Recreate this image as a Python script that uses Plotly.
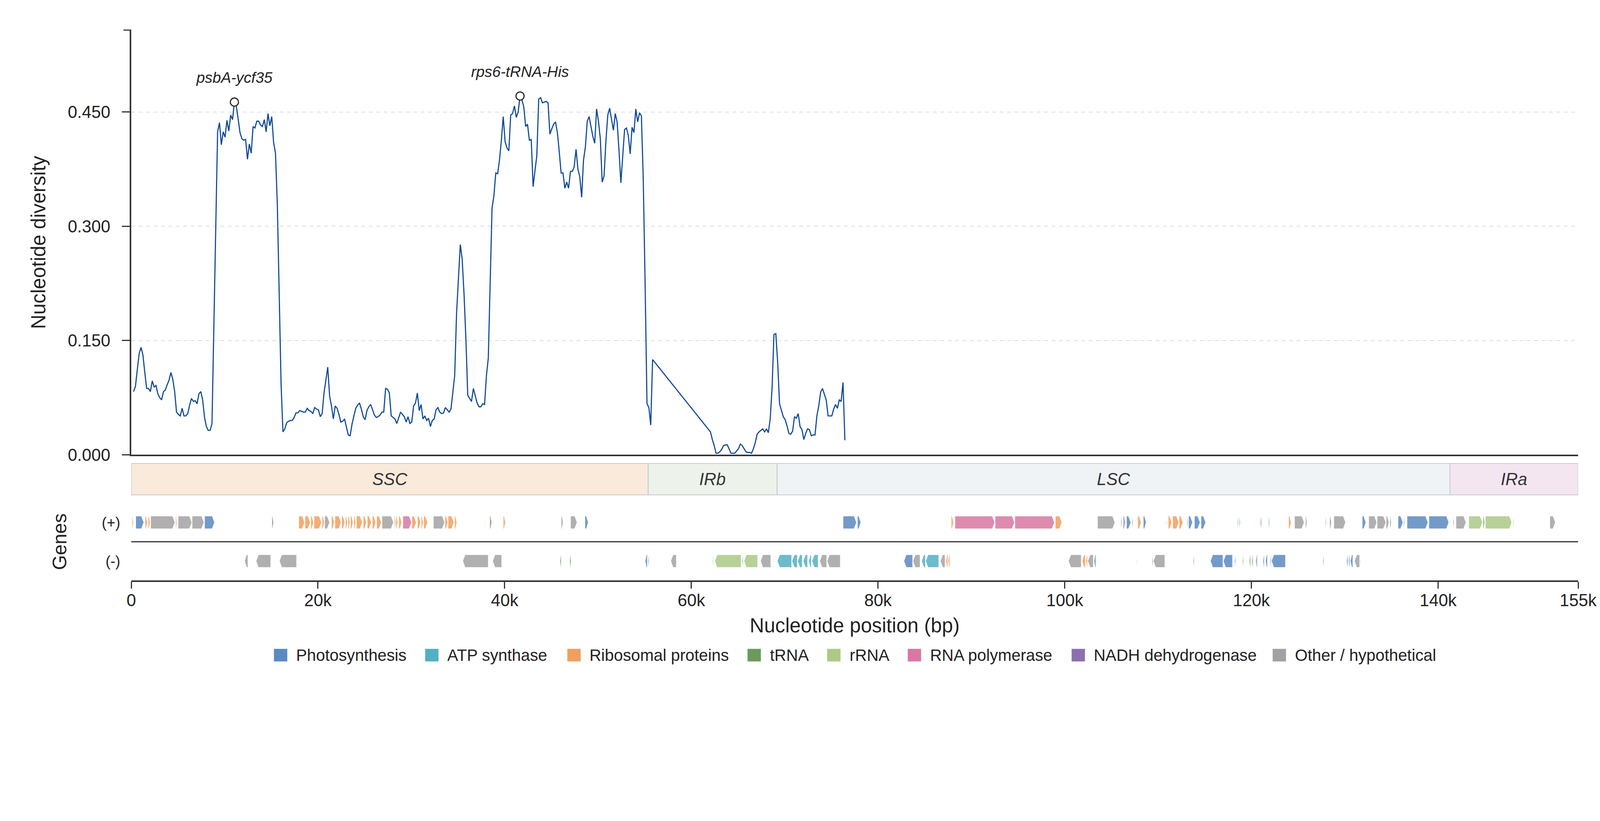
import plotly.graph_objects as go

FONT = "Liberation Sans, Arial, Helvetica, sans-serif"

# ---------------------------------------------------------------
# Sliding-window nucleotide diversity (window step 200 bp)
# ---------------------------------------------------------------
win_step = 200
win_start_a = 250      # windows before the alignment gap
win_start_b = 62050    # windows after the alignment gap

pi_run_a = [
    # 0 - 19.6 kb
    0.083, 0.090, 0.112, 0.133, 0.141, 0.131, 0.108, 0.087, 0.087, 0.083,
    0.097, 0.089, 0.091, 0.080, 0.075, 0.072, 0.083, 0.085, 0.092, 0.098,
    0.108, 0.099, 0.083, 0.056, 0.053, 0.051, 0.061, 0.051, 0.051, 0.054,
    0.065, 0.074, 0.070, 0.071, 0.067, 0.080, 0.083, 0.072, 0.049, 0.037,
    0.032, 0.032, 0.041, 0.167, 0.307, 0.424, 0.436, 0.407, 0.424, 0.417,
    0.439, 0.425, 0.446, 0.440, 0.463, 0.458, 0.441, 0.423, 0.415, 0.413,
    0.414, 0.388, 0.408, 0.396, 0.431, 0.429, 0.438, 0.438, 0.433, 0.431,
    0.440, 0.424, 0.448, 0.432, 0.444, 0.410, 0.396, 0.328, 0.211, 0.093,
    0.030, 0.034, 0.042, 0.044, 0.045, 0.045, 0.049, 0.055, 0.055, 0.058,
    0.057, 0.056, 0.056, 0.061, 0.058, 0.057, 0.054, 0.062,
    # 19.8 - 39.4 kb
    0.060, 0.059, 0.050, 0.054, 0.081, 0.097, 0.115, 0.077, 0.064, 0.047,
    0.064, 0.061, 0.053, 0.043, 0.044, 0.047, 0.037, 0.026, 0.025, 0.040,
    0.051, 0.061, 0.065, 0.068, 0.060, 0.050, 0.046, 0.058, 0.063, 0.066,
    0.059, 0.052, 0.049, 0.050, 0.052, 0.056, 0.056, 0.087, 0.086, 0.081,
    0.051, 0.049, 0.047, 0.041, 0.049, 0.056, 0.053, 0.050, 0.043, 0.050,
    0.041, 0.043, 0.064, 0.068, 0.081, 0.058, 0.066, 0.047, 0.051, 0.045,
    0.048, 0.037, 0.045, 0.047, 0.059, 0.062, 0.056, 0.054, 0.055, 0.062,
    0.059, 0.056, 0.060, 0.081, 0.104, 0.186, 0.232, 0.276, 0.257, 0.211,
    0.152, 0.078, 0.074, 0.070, 0.087, 0.077, 0.068, 0.063, 0.063, 0.067,
    0.066, 0.104, 0.127, 0.226, 0.324, 0.340, 0.370, 0.369, 0.387,
    # 39.6 - 55.9 kb
    0.413, 0.444, 0.411, 0.403, 0.399, 0.446, 0.448, 0.458, 0.443, 0.450,
    0.471, 0.466, 0.457, 0.431, 0.434, 0.413, 0.414, 0.352, 0.373, 0.393,
    0.467, 0.469, 0.462, 0.463, 0.464, 0.462, 0.421, 0.428, 0.434, 0.437,
    0.423, 0.398, 0.370, 0.370, 0.350, 0.358, 0.350, 0.372, 0.372, 0.378,
    0.401, 0.375, 0.365, 0.338, 0.387, 0.404, 0.438, 0.444, 0.430, 0.418,
    0.409, 0.454, 0.438, 0.415, 0.358, 0.366, 0.412, 0.446, 0.455, 0.440,
    0.426, 0.448, 0.437, 0.400, 0.357, 0.392, 0.427, 0.429, 0.419, 0.395,
    0.430, 0.423, 0.454, 0.437, 0.449, 0.445, 0.362, 0.223, 0.067, 0.062,
    0.039, 0.125,
]

pi_run_b = [
    # 62.0 - 76.5 kb
    0.030, 0.020, 0.012, 0.002, 0.002, 0.004, 0.007, 0.012, 0.013, 0.013,
    0.007, 0.002, 0.002, 0.002, 0.005, 0.008, 0.014, 0.012, 0.008, 0.004,
    0.003, 0.003, 0.002, 0.008, 0.016, 0.027, 0.030, 0.032, 0.034, 0.030,
    0.034, 0.029, 0.047, 0.088, 0.158, 0.159, 0.121, 0.067, 0.058, 0.050,
    0.046, 0.038, 0.028, 0.027, 0.031, 0.050, 0.048, 0.054, 0.037, 0.033,
    0.020, 0.028, 0.034, 0.033, 0.025, 0.026, 0.026, 0.051, 0.064, 0.082,
    0.087, 0.079, 0.072, 0.051, 0.051, 0.051, 0.060, 0.066, 0.061, 0.072,
    0.070, 0.095, 0.019,
]

peak_labels = ["psbA-ycf35", "rps6-tRNA-His"]
peak_search = [(0, 20000), (20000, 56000)]

# ---------------------------------------------------------------
# Genome regions
# ---------------------------------------------------------------
genome_len = 155000
region_names = ["SSC", "IRb", "LSC", "IRa"]
region_start = [0, 55380, 69190, 141270]
region_end = [55380, 69190, 141270, 155000]

# ---------------------------------------------------------------
# Genes (start, end in bp; functional group)
# ---------------------------------------------------------------
plus_start = [
    80, 260, 480, 1480, 1816, 2083, 4753, 5022, 6522, 7859,
    15071, 17943, 18613, 19244, 19581, 20450, 20716, 21450, 21819, 22552,
    22953, 23219, 23488, 23854, 24119, 24857, 25290, 25825, 26293, 26861,
    28193, 28360, 28662, 29098, 30066, 30665, 31066, 31335, 32371, 33605,
    33938, 34640, 38413, 39849, 46061, 47061, 48596, 76254, 77793, 87841,
    88242, 92540, 94656, 98997, 103515, 106018, 106252, 106621, 107220, 107823,
    108422, 110894, 111096, 111564, 112262, 113100, 113266, 113900, 114603, 118510,
    118708, 120914, 121045, 121846, 123985, 124619, 125790, 127924, 128392, 128828,
    131867, 132565, 133470, 134438, 134838, 135707, 136306, 136671, 139012, 141614,
    141916, 143284, 144823, 145057, 148029, 151970,
]
plus_end = [
    212, 330, 1349, 1714, 2015, 4689, 4887, 6490, 7792, 8926,
    15237, 18578, 19180, 19514, 20382, 20680, 21251, 21751, 22485, 22886,
    23152, 23421, 23754, 24055, 24754, 25190, 25722, 26190, 26793, 28094,
    28328, 28562, 28963, 30030, 30534, 30998, 31268, 31736, 33573, 33906,
    34572, 34874, 38615, 40083, 46263, 47763, 48965, 77690, 78158, 88075,
    92500, 94621, 98897, 99699, 105385, 106121, 106522, 107089, 107323, 108188,
    108724, 110961, 111461, 112231, 112663, 113198, 113698, 114499, 115103, 118609,
    118808, 121013, 121145, 121946, 124250, 125655, 125956, 128024, 128559, 130094,
    132268, 133434, 134402, 134735, 134969, 136239, 136405, 138912, 141150, 141714,
    142987, 144756, 144990, 147894, 148128, 152569,
]
plus_group = [
    "Ribo", "tRNA", "Photo", "Ribo", "Ribo", "Other", "Ribo", "Other", "Other", "Photo",
    "tRNA", "Ribo", "Ribo", "Ribo", "Ribo", "Ribo", "Other", "Ribo", "Ribo", "Ribo",
    "Ribo", "Ribo", "Ribo", "Ribo", "Ribo", "Ribo", "Ribo", "Ribo", "Ribo", "Other",
    "Ribo", "Ribo", "Ribo", "Pol", "Ribo", "Ribo", "Ribo", "Ribo", "Other", "Ribo",
    "Ribo", "Ribo", "tRNA", "Ribo", "Other", "Other", "Photo", "Photo", "Photo", "Ribo",
    "Pol", "Pol", "Pol", "Ribo", "Other", "Photo", "Other", "Photo", "tRNA", "Ribo",
    "Photo", "tRNA", "Ribo", "Ribo", "Ribo", "tRNA", "Photo", "Photo", "Photo", "Photo",
    "Photo", "tRNA", "tRNA", "Photo", "Ribo", "Other", "Other", "Other", "tRNA", "Other",
    "Photo", "Other", "Other", "Other", "Photo", "Photo", "Photo", "Photo", "Photo", "tRNA",
    "Other", "rRNA", "tRNA", "rRNA", "rRNA", "Other",
]

minus_start = [
    12135, 13369, 15872, 35509, 38714, 45926, 46961, 55050, 55351, 57791,
    62266, 62500, 65436, 65638, 67407, 68677, 69208, 70779, 71382, 71981,
    72584, 72918, 73751, 74540, 82768, 83735, 84671, 85104, 86675, 87274,
    87508, 100397, 101868, 102269, 102468, 103138, 107688, 109358, 109493, 113766,
    115602, 116990, 118209, 119042, 119776, 120045, 120446, 121247, 121513, 122013,
    122148, 127658, 130197, 130396, 130597, 131030, 131633,
]
minus_end = [
    12500, 14940, 17709, 38246, 39682, 46061, 47096, 55284, 55451, 58390,
    62365, 65337, 65539, 67106, 68510, 68744, 70748, 71347, 71882, 72449,
    72850, 73584, 74500, 75956, 83705, 84503, 85072, 86508, 87175, 87476,
    87679, 101770, 102202, 102436, 103071, 103336, 107755, 109458, 110727, 113866,
    116950, 117975, 118308, 119142, 119909, 120179, 120644, 121380, 121715, 122113,
    123651, 127758, 130330, 130529, 130864, 131597, 131700,
]
minus_group = [
    "Other", "Other", "Other", "Other", "Other", "tRNA", "tRNA", "Photo", "Photo", "Other",
    "rRNA", "rRNA", "tRNA", "rRNA", "Other", "tRNA", "ATP", "ATP", "ATP", "ATP",
    "ATP", "ATP", "Other", "Other", "Photo", "Other", "ATP", "ATP", "Other", "Ribo",
    "Ribo", "Other", "Ribo", "Ribo", "Other", "Photo", "tRNA", "tRNA", "Other", "tRNA",
    "Photo", "Photo", "Photo", "tRNA", "tRNA", "tRNA", "Other", "Photo", "Photo", "Photo",
    "Photo", "tRNA", "Photo", "Photo", "Photo", "Other", "Photo",
]

group_keys = ["Photo", "ATP", "Ribo", "tRNA", "rRNA", "Pol", "NADH", "Other"]
group_names = ["Photosynthesis", "ATP synthase", "Ribosomal proteins", "tRNA",
               "rRNA", "RNA polymerase", "NADH dehydrogenase", "Other / hypothetical"]

# ---------------------------------------------------------------
# Styles
# ---------------------------------------------------------------
group_colors = {
    "Photo": (90, 138, 192), "ATP": (82, 176, 194), "Ribo": (240, 160, 94),
    "tRNA": (107, 154, 92), "rRNA": (172, 201, 134), "Pol": (217, 119, 162),
    "NADH": (138, 112, 176), "Other": (162, 162, 162),
}
region_fill = ["#f9eadc", "#edf3ea", "#eff3f6", "#f3e6f1"]
LINE_BLUE = "#0d4797"
AXIS = "#333333"
TXT = "#222222"

# the page is photographed slightly enlarged, so layout is worked out in
# picture pixels and converted to css pixels
K = 1.055
BODY = 8


def px(v):
    return v / K


W = round(4322 / K) - 2 * BODY
H = round(2102 / K) - 2 * BODY
# plot area in picture pixels
P_L, P_R, P_T, P_B = 355, 4262, 81, 1568
ML = px(P_L) - BODY
MT = px(P_T) - BODY
MR = W - (px(P_R) - BODY)
MB = H - (px(P_B) - BODY)


def paper_y(p):
    return (P_B - p) / (P_B - P_T)


def paper_x(p):
    return (p - P_L) / (P_R - P_L)


def rgb(c, a=1.0):
    return "rgba(%d,%d,%d,%.2f)" % (c[0], c[1], c[2], a)


def arrow(s, e, strand, half=0.33):
    head = min(260, 0.6 * (e - s))
    yc = 1 if strand > 0 else -1
    if strand > 0:
        xs = [s, e - head, e, e - head, s, s]
    else:
        xs = [e, s + head, s, s + head, e, e]
    ys = [yc - half, yc - half, yc, yc + half, yc + half, yc - half]
    return xs, ys


# ---------------------------------------------------------------
fig = go.Figure()

# gene arrows, one filled trace per functional group
for key in group_keys:
    gx, gy = [], []
    for s, e, g in zip(plus_start, plus_end, plus_group):
        if g == key:
            xs, ys = arrow(s, e, 1)
            gx += xs + [None]
            gy += ys + [None]
    for s, e, g in zip(minus_start, minus_end, minus_group):
        if g == key:
            xs, ys = arrow(s, e, -1)
            gx += xs + [None]
            gy += ys + [None]
    if not gx:
        continue
    fig.add_trace(go.Scatter(
        x=gx, y=gy, xaxis="x", yaxis="y3", mode="lines", fill="toself",
        fillcolor=rgb(group_colors[key], 0.85),
        line=dict(color="white", width=px(1.2)), hoverinfo="skip", showlegend=False,
    ))

# diversity line
pos = [win_start_a + win_step * i for i in range(len(pi_run_a))] + \
      [win_start_b + win_step * i for i in range(len(pi_run_b))]
pi = pi_run_a + pi_run_b

fig.add_trace(go.Scatter(
    x=pos, y=pi, xaxis="x2", yaxis="y", mode="lines",
    line=dict(color=LINE_BLUE, width=px(3)), showlegend=False,
))

# peaks
peak_x, peak_y = [], []
for lo, hi in peak_search:
    cand = [(v, p) for p, v in zip(pos, pi) if lo <= p < hi]
    v, p = max(cand)
    peak_x.append(p)
    peak_y.append(v)

fig.add_trace(go.Scatter(
    x=peak_x, y=peak_y, xaxis="x2", yaxis="y", mode="markers",
    marker=dict(size=px(22), color="white", line=dict(color=TXT, width=px(3))),
    showlegend=False,
))
for p, v, lab in zip(peak_x, peak_y, peak_labels):
    fig.add_annotation(x=p, y=v, xref="x2", yref="y", text="<i>%s</i>" % lab,
                       showarrow=False, yshift=px(66),
                       font=dict(family=FONT, size=px(41), color=TXT))

# region band
for name, s, e, fc in zip(region_names, region_start, region_end, region_fill):
    fig.add_shape(type="rect", xref="x3", yref="y2 domain", x0=s, x1=e, y0=0, y1=1,
                  fillcolor=fc, line=dict(color="#bcc5cd", width=px(2)), layer="below")
    fig.add_annotation(x=(s + e) / 2, y=0.5, xref="x3", yref="y2 domain",
                       text="<i>%s</i>" % name, showarrow=False,
                       font=dict(family=FONT, size=px(46), color=AXIS))

# divider between strands
fig.add_shape(type="line", xref="x", yref="y3", x0=0, x1=genome_len, y0=0, y1=0,
              line=dict(color=AXIS, width=px(3)))
# tick at the top end of the diversity axis
fig.add_shape(type="line", xref="paper", yref="paper", x0=paper_x(P_L - 21), x1=0,
              y0=1, y1=1, line=dict(color=AXIS, width=px(3)))

# legend drawn by hand (square swatches)
char_w = {"P": .667, "h": .556, "o": .556, "t": .278, "s": .5, "y": .5, "n": .556,
          "e": .556, "i": .222, "A": .667, "T": .611, "a": .556, "R": .722, "b": .556,
          "m": .833, "l": .222, "p": .556, "r": .333, "N": .722, "H": .722, "d": .556,
          "g": .556, "O": .778, "/": .278, "c": .5, " ": .278}
LEG_FONT = 44                      # picture pixels
SQ, SQ_GAP, ITEM_GAP = 36, 22, 52  # picture pixels
widths = [sum(char_w.get(ch, .556) for ch in nm) * LEG_FONT for nm in group_names]
total = sum(SQ + SQ_GAP + w for w in widths) + ITEM_GAP * (len(widths) - 1)
x_cur = (P_L + P_R) / 2 - total / 2
leg_y = 1770
for key, nm, w in zip(group_keys, group_names, widths):
    fig.add_shape(type="rect", xref="paper", yref="paper",
                  x0=paper_x(x_cur), x1=paper_x(x_cur + SQ),
                  y0=paper_y(leg_y + 17), y1=paper_y(leg_y - 17),
                  fillcolor=rgb(group_colors[key]), line=dict(width=0))
    fig.add_annotation(x=paper_x(x_cur + SQ + SQ_GAP), y=paper_y(leg_y),
                       xref="paper", yref="paper", xanchor="left", yanchor="middle",
                       text=nm, showarrow=False,
                       font=dict(family=FONT, size=px(LEG_FONT), color=TXT))
    x_cur += SQ + SQ_GAP + w + ITEM_GAP

x_ticks = [0, 20000, 40000, 60000, 80000, 100000, 120000, 140000, 155000]
x_tick_text = ["0", "20k", "40k", "60k", "80k", "100k", "120k", "140k", "155k"]

fig.update_layout(
    template="none",
    width=W, height=H,
    margin=dict(l=ML, r=MR, t=MT, b=MB, pad=0),
    paper_bgcolor="white", plot_bgcolor="white",
    showlegend=False,
    font=dict(family=FONT, size=px(44), color=TXT),
    xaxis=dict(
        domain=[0, 1], anchor="y3", range=[0, genome_len],
        tickvals=x_ticks, ticktext=x_tick_text,
        ticks="outside", ticklen=px(18), tickwidth=px(3), tickcolor=AXIS,
        ticklabelstandoff=round(px(-7)),
        showline=True, linewidth=px(4), linecolor=AXIS, showgrid=False, zeroline=False,
        tickfont=dict(size=px(46), color=TXT),
        title=dict(text="Nucleotide position (bp)", font=dict(size=px(54), color=TXT),
                   standoff=px(25)),
        automargin=False,
    ),
    xaxis2=dict(
        anchor="y", matches="x", range=[0, genome_len],
        showline=True, linewidth=px(4), linecolor=AXIS, ticks="",
        showticklabels=False, showgrid=False, zeroline=False, automargin=False,
    ),
    xaxis3=dict(anchor="y2", matches="x", range=[0, genome_len], visible=False),
    yaxis=dict(
        domain=[paper_y(1228.5), 1], anchor="x2", range=[0, 0.5576],
        tickvals=[0, 0.15, 0.30, 0.45], tickformat=".3f",
        ticks="outside", ticklen=px(21), tickwidth=px(3), tickcolor=AXIS,
        ticklabelstandoff=round(px(22)),
        showline=True, linewidth=px(4), linecolor=AXIS,
        showgrid=True, gridcolor="#d8dee4", gridwidth=px(2), griddash="10px,9px",
        zeroline=False, tickfont=dict(size=px(46), color=TXT),
        title=dict(text="Nucleotide diversity", font=dict(size=px(54), color=TXT),
                   standoff=px(44)),
        automargin=False,
    ),
    yaxis2=dict(domain=[paper_y(1337), paper_y(1252)], anchor="x3", range=[0, 1],
                visible=False),
    yaxis3=dict(
        domain=[0, paper_y(1359)], anchor="x", range=[-2, 2],
        tickvals=[1, -1], ticktext=["(+)", "(-)"], ticks="",
        ticklabelstandoff=round(px(28)),
        showline=False, showgrid=False, zeroline=False,
        tickfont=dict(size=px(40), color=TXT),
        title=dict(text="Genes", font=dict(size=px(52), color=TXT), standoff=px(78)),
        automargin=False,
    ),
)

fig.write_html("out.html")
